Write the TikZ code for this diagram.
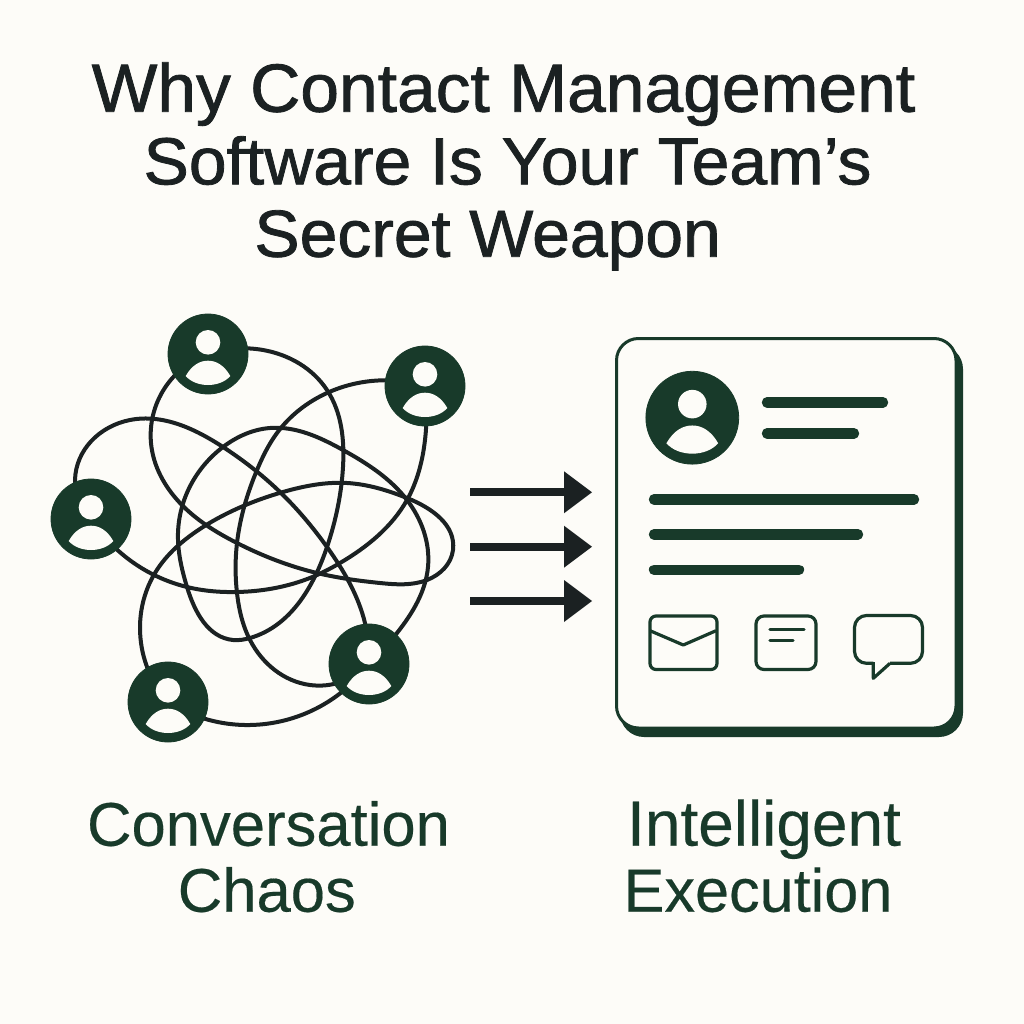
\documentclass[tikz,border=0pt]{standalone}
\usepackage{fontspec}
\setmainfont{Liberation Sans}
\newfontfamily\titlefont[FakeBold=1.2,FakeStretch=1.02]{Liberation Sans}
\newfontfamily\labelfont[FakeBold=0.3]{Liberation Sans}
\usetikzlibrary{hobby}
\pgfdeclarelayer{back}
\pgfsetlayers{back,main}
\definecolor{pagebg}{HTML}{FDFCF8}
\definecolor{deepgreen}{HTML}{183A2A}
\definecolor{inkblack}{HTML}{1B2122}
\tikzset{
  wire/.style={draw=inkblack,line width=0.1cm,line cap=round,use Hobby shortcut},
  avatar/.style={circle,fill=deepgreen,draw=deepgreen,line width=0.02cm,inner sep=0pt,minimum size=2cm},
  bigavatar/.style={avatar,minimum size=2.32cm},
  bar/.style={draw=deepgreen,line width=0.26cm,line cap=round},
  icon/.style={draw=deepgreen,line width=0.08cm,line join=round},
  flow/.style={draw=inkblack,line width=0.2cm},
  head/.style={fill=inkblack},
  titletext/.style={text=inkblack,font=\titlefont\fontsize{48.5}{52}\selectfont,anchor=base,inner sep=0pt},
  titletextb/.style={text=inkblack,font=\titlefont\fontsize{47.3}{52}\selectfont,anchor=base,inner sep=0pt},
  labeltext/.style={text=deepgreen,font=\labelfont\fontsize{43.8}{48}\selectfont,anchor=base,inner sep=0pt},
  glyph/.pic={
    \fill[pagebg] (0,-11.7) circle (12.3);
    \fill[pagebg] (-22.3,22) .. controls (-16,11) and (-8,6.7) .. (0,6.7) .. controls (8,6.7) and (16,11) .. (22.3,22) .. controls (12,34) and (-12,34) .. (-22.3,22) -- cycle;
  }
}
\begin{document}
\begin{tikzpicture}[x=0.025cm,y=-0.025cm]
\begin{pgfonlayer}{back}
\fill[pagebg] (0,0) rectangle (1024,1024);
\end{pgfonlayer}
\useasboundingbox (0,0) rectangle (1024,1024);

\node[titletext] (t1) at (503.5,111.7) {Why Contact Management};
\node[titletextb] (t2) at (507.5,184.3) {Software Is Your Team’s};
\node[titletextb] (t3) at (487.6,256.7) {Secret Weapon};

\node[avatar] (A) at (208,354) {};
\node[avatar] (B) at (425,386) {};
\node[avatar] (C) at (91,519) {};
\node[avatar] (D) at (369,664) {};
\node[avatar] (E) at (168,702) {};
\foreach \n in {A,B,C,D,E} {\pic at (\n) {glyph};}

\begin{pgfonlayer}{back}
\draw[wire] (A.center) .. (263,350) .. (327,390) .. (343,467) .. (327,547) .. (250,638) .. (233,640) .. (187,587) .. (178,533) .. (223,447) .. (270,428) .. (343,450) .. (407,500) .. (428,567) .. (397,633) .. (D.center);
\draw[wire] (A.center) .. (151,443) .. (180,503) .. (237,543) .. (317,573) .. (380,583) .. (427,580) .. (453,550) .. (407,498) .. (347,483) .. (283,492) .. (203,527) .. (155,573) .. (140,627) .. (E.center);
\draw[wire] (B.center) .. (327,393) .. (277,433) .. (257,470) .. (237,543) .. (237,593) .. (250,640) .. (310,685) .. (D.center);
\draw[wire] (B.center) .. (425,440) .. (407,500) .. (340,563) .. (317,575) .. (237,592) .. (187,587) .. (C.center);
\draw[wire] (C.center) .. (75,480) .. (130,420) .. (223,447) .. (280,492) .. (327,547) .. (365,623) .. (D.center);
\draw[wire] (E.center) .. (250,725) .. (D.center);
\end{pgfonlayer}

\coordinate (f1a) at (470,492.3); \coordinate (f1b) at (565,492.3);
\coordinate (f2a) at (470,546.7); \coordinate (f2b) at (565,546.7);
\coordinate (f3a) at (470,601); \coordinate (f3b) at (565,601);
\foreach \s/\e/\y in {f1a/f1b/492.3,f2a/f2b/546.7,f3a/f3b/601} {
  \draw[flow] (\s) -- (\e);
  \fill[head] (564,\y-21) -- (592,\y) -- (564,\y+21) -- cycle;
}

\fill[deepgreen,rounded corners=0.6cm] (620,345) rectangle (963,737);
\draw[draw=deepgreen,fill=pagebg,line width=0.075cm,rounded corners=0.55cm] (616.5,338.5) rectangle (956,728);

\node[bigavatar] (P) at (692.3,417.7) {};
\pic[scale=1.16] at (P) {glyph};
\draw[bar] (767,402.3) -- (883,402.3);
\draw[bar] (767,433.3) -- (854,433.3);
\draw[bar] (654,499.3) -- (914,499.3);
\draw[bar] (654,534.3) -- (858,534.3);
\draw[bar] (654,569.7) -- (799,569.7);

\draw[icon,rounded corners=0.15cm] (650,616) rectangle (717,669.5);
\draw[icon] (650,630.7) -- (683.3,645) -- (716,630.7);
\draw[icon,rounded corners=0.2cm] (756,616) rectangle (816,669.5);
\draw[icon,line cap=round] (770,629.7) -- (804,629.7);
\draw[icon,line cap=round] (770,640.7) -- (793,640.7);
\draw[icon,rounded corners=0.3cm] (873.3,663.3) -- (854.5,663.3) -- (854.5,615.5) -- (922.5,615.5) -- (922.5,663.3) -- (890,663.3);
\draw[icon] (873.3,662) -- (873.3,678.3) -- (890,663.3);

\node[labeltext] (c1) at (268.5,845.7) {Conversation};
\node[labeltext] (c2) at (266.8,911.7) {Chaos};
\node[labeltext,font=\labelfont\fontsize{45.5}{48}\selectfont] (r1) at (764,845.7) {Intelligent};
\node[labeltext,font=\labelfont\fontsize{43.5}{48}\selectfont] (r2) at (758,911.7) {Execution};
\end{tikzpicture}
\end{document}
